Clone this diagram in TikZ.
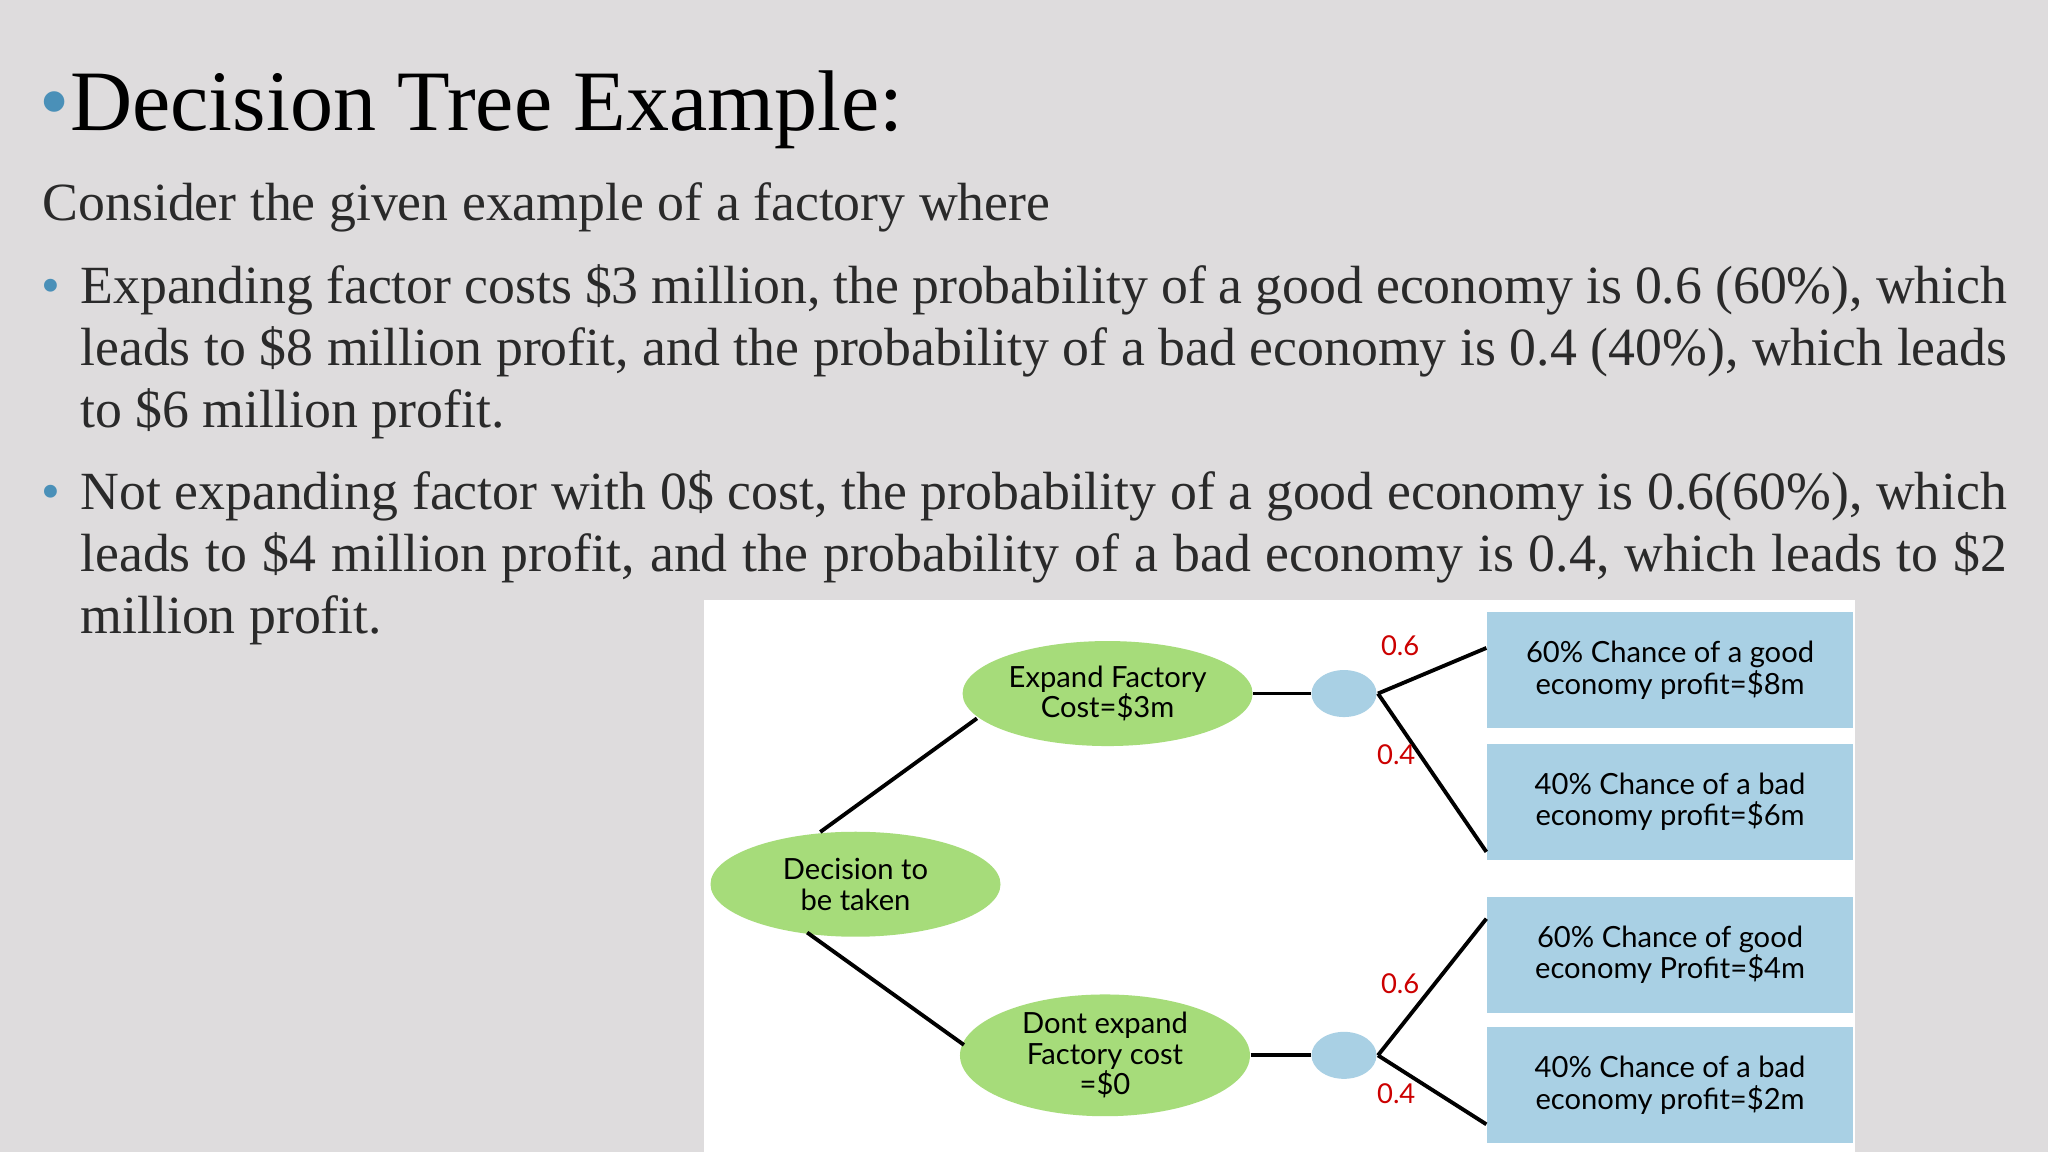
\documentclass[tikz,border=0pt]{standalone}
\usepackage{fontspec}
\setmainfont{Liberation Serif}
\newfontfamily\dfont{Lato}
\usetikzlibrary{shapes.geometric}
\definecolor{bg}{HTML}{DEDCDD}
\definecolor{bul}{HTML}{4A90B8}
\definecolor{gr}{HTML}{A6DC7A}
\definecolor{bl}{HTML}{A9D0E4}
\definecolor{txt}{HTML}{2A2A2A}
\begin{document}
\begin{tikzpicture}[x=0.01306cm,y=-0.01306cm,
 body/.style={anchor=north west,inner sep=0pt,text width=19.27cm,align=justify,font=\fontsize{15.3}{17.6}\selectfont,text=txt},
 ell/.style={ellipse,fill=gr,font=\dfont\fontsize{8.3}{8.7}\selectfont,align=center,inner sep=0pt,minimum width=2.9cm,minimum height=1.05cm},
 box/.style={anchor=north west,fill=bl,minimum width=3.66cm,minimum height=1.16cm,font=\dfont\fontsize{8.3}{9}\selectfont,align=center,inner sep=0pt},
 chance/.style={ellipse,fill=bl,minimum width=0.65cm,minimum height=0.47cm,inner sep=0pt},
 prob/.style={text=red!80!black,font=\dfont\fontsize{7.8}{9}\selectfont,inner sep=0pt},
 bullet/.style={text=bul,anchor=base west,inner sep=0pt,font=\fontsize{15.3}{17.6}\selectfont},
 ln/.style={line width=1.1pt,black}]
\fill[bg] (0,0) rectangle (1568,882);
\useasboundingbox (0,0) rectangle (1568,882);
\node[anchor=base west,inner sep=0pt,font=\fontsize{24.5}{30}\selectfont] (title) at (30,100) {\textcolor{bul}{\fontsize{24.5}{24.5}\selectfont\textbullet}Decision Tree Example:};
\node[anchor=base west,inner sep=0pt,font=\fontsize{15.3}{17.6}\selectfont,text=txt] (intro) at (32,169) {Consider the given example of a factory where};
\node[bullet] (b1) at (31,232) {\textbullet};
\node[body] (p1) at (61,202) {Expanding factor costs \$3 million, the probability of a good economy is 0.6 (60\%), which leads to \$8 million profit, and the probability of a bad economy is 0.4 (40\%), which leads to \$6 million profit.};
\node[bullet] (b2) at (31,390) {\textbullet};
\node[body] (p2) at (61,360) {Not expanding factor with 0\$ cost, the probability of a good economy is 0.6(60\%), which leads to \$4 million profit, and the probability of a bad economy is 0.4, which leads to \$2 million profit.};
\fill[white] (539,459) rectangle (1420,882);
\node[ell] (exp) at (848,531) {Expand Factory\\Cost=\$3m};
\node[ell] (dec) at (655,677) {Decision to\\be taken};
\node[ell] (dont) at (846,808) {Dont expand\\Factory cost\\=\$0};
\node[chance] (c1) at (1029,531) {};
\node[chance] (c2) at (1029,808) {};
\node[box] (r1) at (1138,468) {60\% Chance of a good\\economy profit=\$8m};
\node[box] (r2) at (1138,569) {40\% Chance of a bad\\economy profit=\$6m};
\node[box] (r3) at (1138,686) {60\% Chance of good\\economy Profit=\$4m};
\node[box] (r4) at (1138,786) {40\% Chance of a bad\\economy profit=\$2m};
\coordinate (d1) at (628,637); \coordinate (e1) at (748,550);
\coordinate (d2) at (618,714); \coordinate (e2) at (738,800);
\draw[ln] (d1) -- (e1);
\draw[ln] (d2) -- (e2);
\draw[ln] (exp.east) -- (c1.west);
\draw[ln] (dont.east) -- (c2.west);
\coordinate (k1) at (1055,531); \coordinate (k2) at (1055,808);
\draw[ln] (k1) -- ([yshift=0.22cm]r1.west);
\draw[ln] (k1) -- ([yshift=-0.5cm]r2.west);
\draw[ln] (k2) -- ([yshift=0.36cm]r3.west);
\draw[ln] (k2) -- ([yshift=-0.39cm]r4.west);
\node[prob] (p06a) at (1072,494) {0.6};
\node[prob] (p04a) at (1069,578) {0.4};
\node[prob] (p06b) at (1072,753) {0.6};
\node[prob] (p04b) at (1069,837) {0.4};
\end{tikzpicture}
\end{document}
